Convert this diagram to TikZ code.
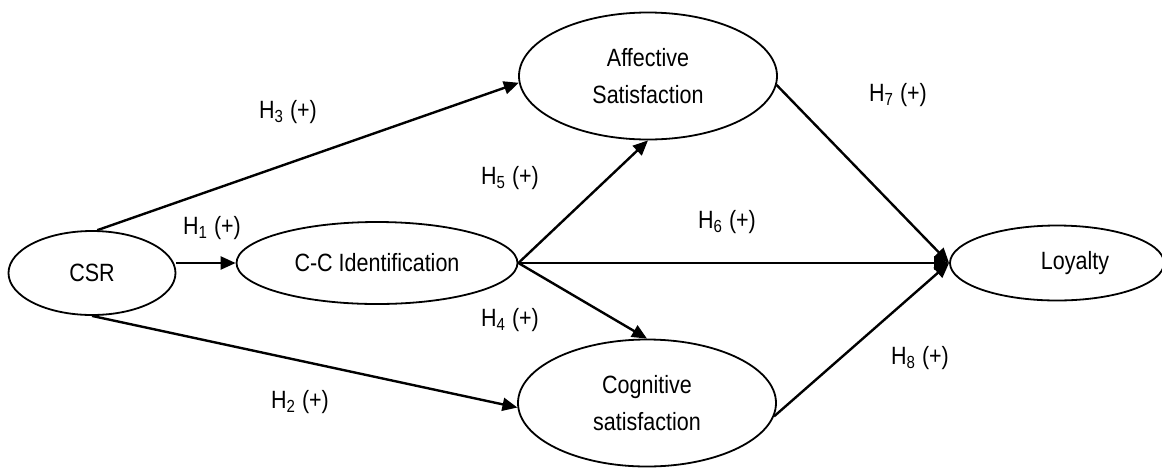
\documentclass[tikz,border=0pt]{standalone}
\usepackage{fontspec}
\setmainfont{Liberation Sans}[FakeStretch=0.86]
\usetikzlibrary{shapes.geometric,arrows.meta,positioning}

\begin{document}
\begin{tikzpicture}[x=0.5pt,y=-0.5pt,>={Triangle[length=7.5pt,width=6.5pt]}]
\tikzstyle{construct}=[ellipse,draw=black,line width=0.9pt,
inner sep=0pt,align=center,
font=\fontsize{12.5}{18.5}\selectfont]
\tikzstyle{hyp}=[inner sep=0pt,font=\fontsize{12.5}{15}\selectfont]
\tikzstyle{link}=[->,line width=1.2pt]
\useasboundingbox (0,0) rectangle (1162,467);

\node[construct,minimum width=83.5pt,minimum height=42pt] at (92,273) (csr) {CSR};
\node[construct,minimum width=140.5pt,minimum height=41pt] at (377,263) (cci) {C-C Identification};
\node[construct,minimum width=129pt,minimum height=63.5pt] at (648,76) (aff) {Affective\\Satisfaction};
\node[construct,minimum width=129pt,minimum height=63.5pt] at (647,403) (cog) {Cognitive\\satisfaction};
\node[construct,minimum width=107pt,minimum height=37.5pt,
label={[hyp,xshift=9pt]center:Loyalty}] at (1057,263) (loy) {};

\node[hyp] at (212,228) (h1) {H\textsubscript{1} (+)};
\node[hyp] at (300,402) (h2) {H\textsubscript{2} (+)};
\node[hyp] at (288,112) (h3) {H\textsubscript{3} (+)};
\node[hyp] at (510,320) (h4) {H\textsubscript{4} (+)};
\node[hyp] at (510,178) (h5) {H\textsubscript{5} (+)};
\node[hyp] at (727,222) (h6) {H\textsubscript{6} (+)};
\node[hyp] at (898,95) (h7) {H\textsubscript{7} (+)};
\node[hyp] at (920,358) (h8) {H\textsubscript{8} (+)};

\path[link] (csr.east |- cci.west) edge (cci.west) ;
\path[link] (csr.83) edge (aff.183) ;
\path[link] (csr.south) edge (cog.182) ;
\path[link] (cci.east) edge (aff.south) ;
\path[link] (cci.east) edge (cog.north) ;
\path[link] (cci.east) edge (loy.west) ;
\path[link] (aff.-4) edge (loy.west) ;
\path[link] (cog.-6) edge (loy.west) ;

\end{tikzpicture}
\end{document}
